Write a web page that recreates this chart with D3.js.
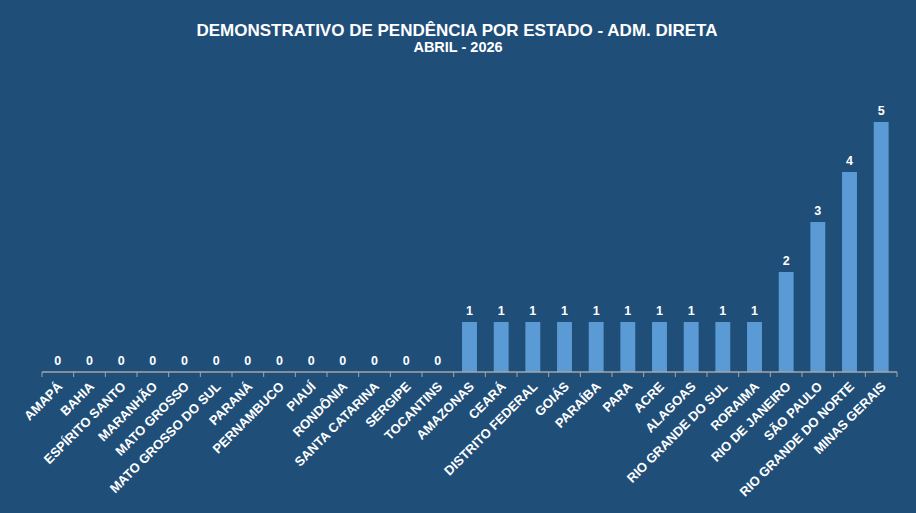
<!DOCTYPE html>
<html>
<head>
<meta charset="utf-8">
<script src="https://cdn.jsdelivr.net/npm/d3@7"></script>
<style>
  html, body { margin: 0; padding: 0; background: #1f4e79; }
  svg { display: block; }
</style>
</head>
<body>
<svg id="chart"></svg>
<script>
// data
const states = [
  'AMAPÁ', 'BAHIA', 'ESPÍRITO SANTO', 'MARANHÃO', 'MATO GROSSO', 'MATO GROSSO DO SUL',
  'PARANÁ', 'PERNAMBUCO', 'PIAUÍ', 'RONDÔNIA', 'SANTA CATARINA', 'SERGIPE', 'TOCANTINS',
  'AMAZONAS', 'CEARÁ', 'DISTRITO FEDERAL', 'GOIÁS', 'PARAÍBA', 'PARA', 'ACRE', 'ALAGOAS',
  'RIO GRANDE DO SUL', 'RORAIMA', 'RIO DE JANEIRO', 'SÃO PAULO', 'RIO GRANDE DO NORTE', 'MINAS GERAIS'
];
const pendencias = [0, 0, 0, 0, 0, 0, 0, 0, 0, 0, 0, 0, 0, 1, 1, 1, 1, 1, 1, 1, 1, 1, 1, 2, 3, 4, 5];
const title = 'DEMONSTRATIVO DE PENDÊNCIA POR ESTADO - ADM. DIRETA';
const subtitle = 'ABRIL - 2026';

const width = 916;
const height = 513;
const margin = { top: 122, right: 19, bottom: 141, left: 42 };

const svg = d3.select('#chart')
  .attr('width', width)
  .attr('height', height)
  .style('font-family', 'Liberation Sans, Arial, sans-serif');

svg.append('rect')
  .attr('width', width)
  .attr('height', height)
  .attr('fill', '#1f4e79');

// scales
const x = d3.scaleBand()
  .domain(states)
  .range([margin.left, width - margin.right])
  .paddingInner(0.53)
  .paddingOuter(0.265);

const y = d3.scaleLinear()
  .domain([0, 5])
  .range([height - margin.bottom, margin.top]);

// title
svg.append('text')
  .attr('x', width / 2 - 1)
  .attr('y', 36)
  .attr('text-anchor', 'middle')
  .attr('fill', '#ffffff')
  .style('font-size', '17px')
  .style('font-weight', 'bold')
  .text(title);

svg.append('text')
  .attr('x', width / 2)
  .attr('y', 52)
  .attr('text-anchor', 'middle')
  .attr('fill', '#ffffff')
  .style('font-size', '14.5px')
  .style('font-weight', 'bold')
  .text(subtitle);

// bars
svg.append('g')
  .selectAll('rect')
  .data(states)
  .enter()
  .append('rect')
  .attr('x', (d) => x(d))
  .attr('y', (d, i) => y(pendencias[i]))
  .attr('width', x.bandwidth())
  .attr('height', (d, i) => y(0) - y(pendencias[i]))
  .attr('fill', '#5b9bd5');

// value labels
svg.append('g')
  .selectAll('text')
  .data(states)
  .enter()
  .append('text')
  .attr('x', (d) => x(d) + x.bandwidth() / 2)
  .attr('y', (d, i) => y(pendencias[i]) - 7)
  .attr('text-anchor', 'middle')
  .attr('fill', '#ffffff')
  .style('font-size', '12.5px')
  .style('font-weight', 'bold')
  .text((d, i) => pendencias[i]);

// x axis, ticks on category boundaries
const step = x.step();
const axis = svg.append('g')
  .attr('transform', `translate(0, ${y(0)})`);

axis.append('line')
  .attr('x1', margin.left)
  .attr('x2', width - margin.right)
  .attr('stroke', '#a6a6a6')
  .attr('stroke-width', 1.5);

axis.selectAll('.tick')
  .data(d3.range(states.length + 1))
  .enter()
  .append('line')
  .attr('class', 'tick')
  .attr('x1', (i) => margin.left + i * step)
  .attr('x2', (i) => margin.left + i * step)
  .attr('y1', 0)
  .attr('y2', 5)
  .attr('stroke', '#a6a6a6')
  .attr('stroke-width', 1);

axis.selectAll('.cat')
  .data(states)
  .enter()
  .append('text')
  .attr('class', 'cat')
  .attr('transform', (d) => `translate(${x(d) + x.bandwidth() / 2 + 3}, 13) rotate(-45)`)
  .attr('text-anchor', 'end')
  .attr('dominant-baseline', 'middle')
  .attr('fill', '#ffffff')
  .style('font-size', '13px')
  .style('font-weight', 'bold')
  .text((d) => d);
</script>
</body>
</html>
